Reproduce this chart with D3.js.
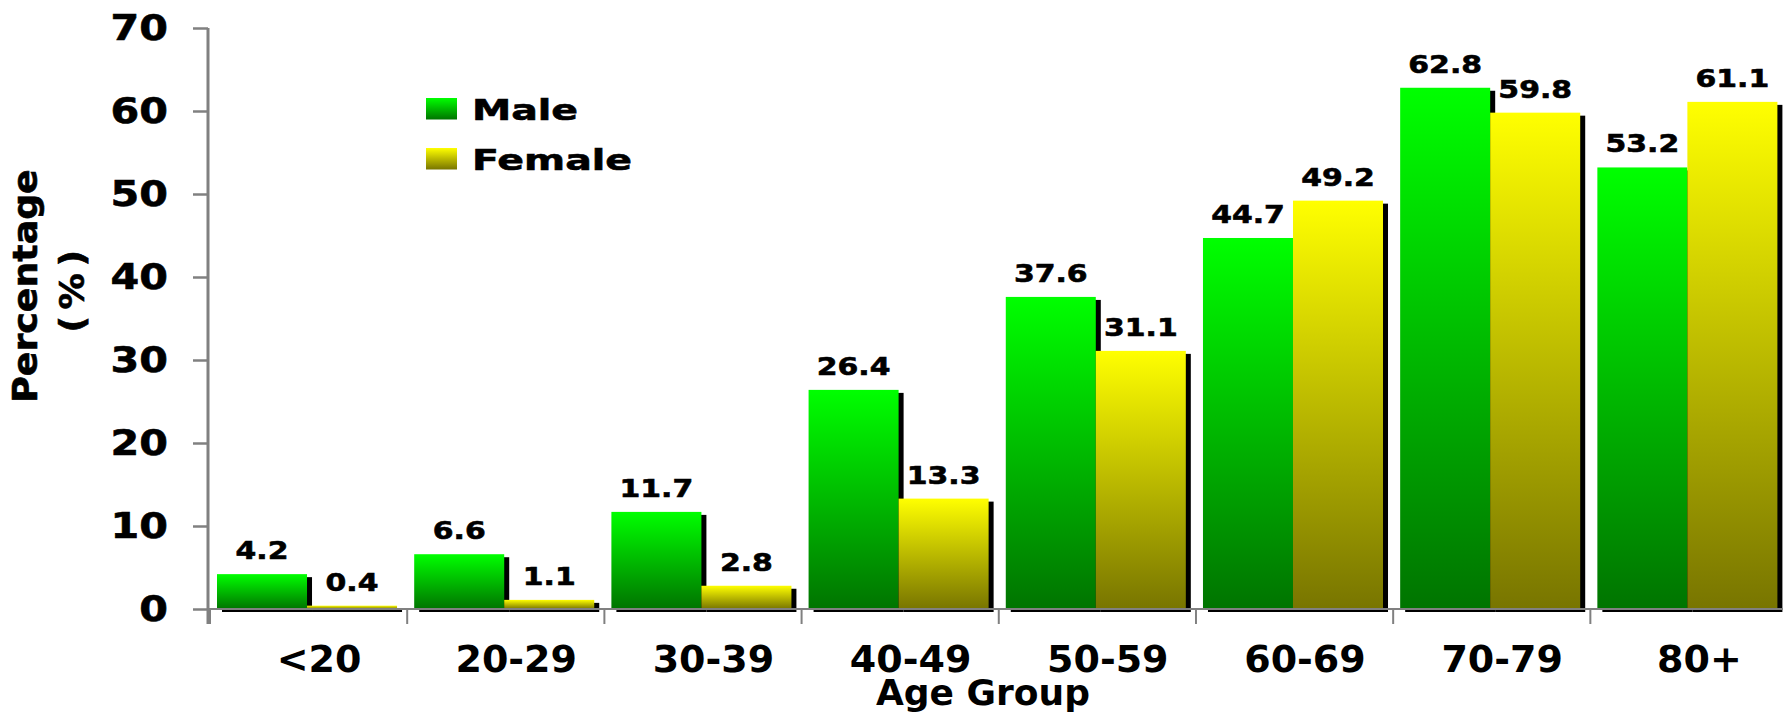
<!DOCTYPE html>
<html>
<head>
<meta charset="utf-8">
<script src="https://cdn.jsdelivr.net/npm/d3@7"></script>
<style>
  html, body { margin: 0; padding: 0; background: #ffffff; }
  svg { display: block; }
  text { font-family: "DejaVu Sans", Verdana, sans-serif; font-weight: bold; fill: #000; }
  .heavy { stroke: #000; stroke-width: 0.6px; }
</style>
</head>
<body>
<svg id="chart" width="1783" height="715"></svg>
<script>
// Share of each age group, by sex (%)
const categories = ["<20", "20-29", "30-39", "40-49", "50-59", "60-69", "70-79", "80+"];
const maleValues = [4.2, 6.6, 11.7, 26.4, 37.6, 44.7, 62.8, 53.2];
const femaleValues = [0.4, 1.1, 2.8, 13.3, 31.1, 49.2, 59.8, 61.1];
const seriesNames = ["Male", "Female"];
const yTickValues = [0, 10, 20, 30, 40, 50, 60, 70];

const seriesValues = { Male: maleValues, Female: femaleValues };
const gradientStops = {
  Male: ["#00ff00", "#007400"],
  Female: ["#ffff00", "#787500"]
};

const svg = d3.select("#chart");
const axisColor = "#808080";

// scales
const x = d3.scaleBand()
  .domain(categories)
  .range([210, 1784.4])
  .paddingInner(0.087)
  .paddingOuter(0.0355);
const xs = d3.scaleBand()
  .domain(seriesNames)
  .range([0, x.bandwidth()]);
const y = d3.scaleLinear()
  .domain([0, 70])
  .range([609, 28]);

// vertical gradients for bars and legend swatches
const defs = svg.append("defs");
seriesNames.forEach(name => {
  const g = defs.append("linearGradient")
    .attr("id", "grad-" + name)
    .attr("x1", 0).attr("y1", 0).attr("x2", 0).attr("y2", 1);
  g.append("stop").attr("offset", "0%").attr("stop-color", gradientStops[name][0]);
  g.append("stop").attr("offset", "100%").attr("stop-color", gradientStops[name][1]);
});

const rows = categories.map((c, i) => ({
  category: c,
  values: seriesNames.map(s => ({ series: s, value: seriesValues[s][i], category: c }))
}));

// bars with a drop shadow
const shadowDx = 5, shadowDy = 3;
const groups = svg.append("g").selectAll("g.group")
  .data(rows)
  .join("g")
  .attr("class", "group")
  .attr("transform", d => `translate(${x(d.category)},0)`);

groups.selectAll("rect.shadow")
  .data(d => d.values)
  .join("rect")
  .attr("class", "shadow")
  .attr("x", d => xs(d.series) + shadowDx)
  .attr("y", d => y(d.value) + shadowDy)
  .attr("width", xs.bandwidth())
  .attr("height", d => y(0) - y(d.value))
  .attr("fill", "#000");

groups.selectAll("rect.bar")
  .data(d => d.values)
  .join("rect")
  .attr("class", "bar")
  .attr("x", d => xs(d.series))
  .attr("y", d => y(d.value))
  .attr("width", xs.bandwidth())
  .attr("height", d => y(0) - y(d.value))
  .attr("fill", d => `url(#grad-${d.series})`);

// value labels
groups.selectAll("text.value")
  .data(d => d.values)
  .join("text")
  .attr("class", "value heavy")
  .attr("transform", d => `translate(${xs(d.series) + xs.bandwidth() / 2},${y(d.value) - 15}) scale(1.22,1)`)
  .attr("text-anchor", "middle")
  .style("font-size", "24.5px")
  .text(d => d.value.toFixed(1));

// x axis: baseline and boundary ticks
const step = x.step();
const boundary = c => x(c) - x.paddingOuter() * step;
svg.append("line")
  .attr("x1", 208).attr("x2", 1783)
  .attr("y1", y(0)).attr("y2", y(0))
  .attr("stroke", axisColor).attr("stroke-width", 2);
svg.append("g").selectAll("line")
  .data(categories)
  .join("line")
  .attr("x1", c => boundary(c)).attr("x2", c => boundary(c))
  .attr("y1", y(0)).attr("y2", y(0) + 15)
  .attr("stroke", axisColor).attr("stroke-width", 2);

svg.append("g").selectAll("text")
  .data(categories)
  .join("text")
  .attr("x", c => x(c) + x.bandwidth() / 2 + 12)
  .attr("y", 672)
  .attr("text-anchor", "middle")
  .style("font-size", "38px")
  .text(c => c);

// y axis
const yAxis = svg.append("g")
  .attr("transform", "translate(208,0)")
  .call(d3.axisLeft(y).tickValues(yTickValues).tickSize(15).tickSizeOuter(0).tickPadding(25));
yAxis.select(".domain").remove();
yAxis.selectAll(".tick line").attr("stroke", axisColor).attr("stroke-width", 2.5);
yAxis.selectAll(".tick text")
  .attr("x", null)
  .attr("class", "heavy")
  .attr("transform", "translate(-40,0) scale(1.18,1)")
  .attr("fill", "#000")
  .style("font-family", "'DejaVu Sans', Verdana, sans-serif")
  .style("font-weight", "bold")
  .style("font-size", "35px");
svg.append("line")
  .attr("x1", 208).attr("x2", 208)
  .attr("y1", y(70)).attr("y2", y(0) + 15)
  .attr("stroke", axisColor).attr("stroke-width", 3);

// axis titles
svg.append("text")
  .attr("x", 983).attr("y", 705)
  .attr("text-anchor", "middle")
  .style("font-size", "36px")
  .text("Age Group");

svg.append("text")
  .attr("class", "heavy")
  .attr("transform", "translate(37,286) rotate(-90) scale(1.1,1)")
  .attr("text-anchor", "middle")
  .style("font-size", "33px")
  .text("Percentage");
svg.append("text")
  .attr("class", "heavy")
  .attr("transform", "translate(84,288) rotate(-90) scale(1.1,1)")
  .attr("text-anchor", "middle")
  .style("font-size", "33px")
  .style("letter-spacing", "0.18em")
  .text("(%)");

// legend
const legend = svg.append("g").attr("transform", "translate(426,98)");
const legendItems = legend.selectAll("g")
  .data(seriesNames)
  .join("g")
  .attr("transform", (d, i) => `translate(0,${i * 50})`);
legendItems.append("rect")
  .attr("width", 31).attr("height", 21.5)
  .attr("fill", d => `url(#grad-${d})`);
legendItems.append("text")
  .attr("class", "heavy")
  .attr("transform", "translate(46,21.5) scale(1.36,1)")
  .style("font-size", "29px")
  .text(d => d);
</script>
</body>
</html>
